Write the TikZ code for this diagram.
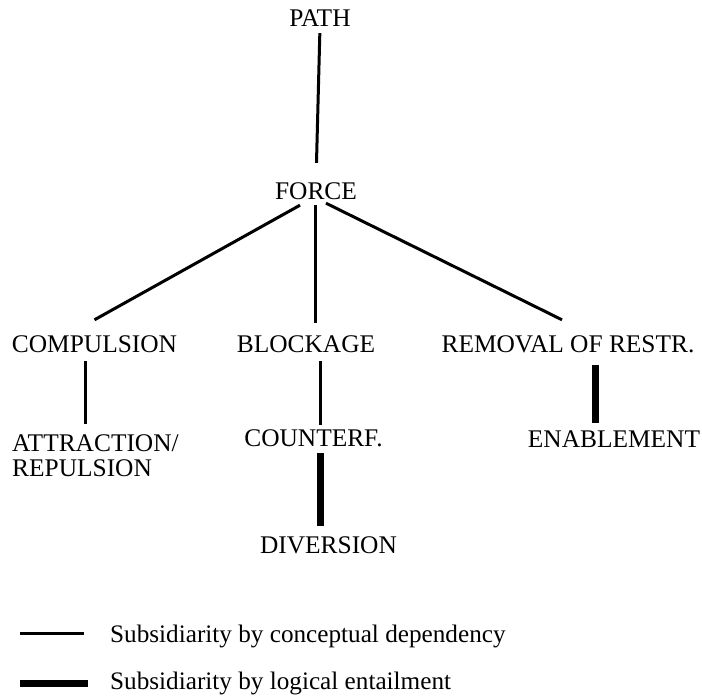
\documentclass[tikz,border=0pt]{standalone}
\usepackage{fontspec}
\setmainfont{Liberation Serif}
\usetikzlibrary{positioning, calc}

\begin{document}
\begin{tikzpicture}[x=1pt, y=-1pt,
            schema/.style={inner sep=0pt, anchor=base, text height=17pt, text depth=0pt, font=\fontsize{25.4}{25}\selectfont},
            schema-left/.style={inner sep=0pt, anchor=north west, align=left, font=\fontsize{25.4}{25}\selectfont},
            key-text/.style={inner sep=0pt, anchor=base west, font=\fontsize{25.2}{25}\selectfont},
            concept/.style={line width=3pt},
            entail/.style={line width=7pt}
        ]
        \useasboundingbox (0,0) rectangle (702,696);

        % Top of the hierarchy
        \node[schema] (path) at (320,26) {PATH};
        \node[schema] (force) at (316,199) {FORCE};

        % Force schemas
        \node[schema] (compulsion) at (94.5,352) {COMPULSION};
        \node[schema] (blockage) at (306,352) {BLOCKAGE};
        \node[schema] (removal) at (568,352) {REMOVAL OF RESTR.};

        % Subsidiary schemas
        \node[schema-left] (attraction) at (12,434) {ATTRACTION/\\REPULSION};
        \node[schema] (counterf) at (313.5,446) {COUNTERF.};
        \node[schema] (enablement) at (614,447) {ENABLEMENT};
        \node[schema] (diversion) at (328.5,553) {DIVERSION};

        % Columns of the vertical lines
        \coordinate (compx) at ([xshift=-9.5pt]compulsion.south);
        \coordinate (blockx) at ([xshift=14pt]blockage.south);
        \coordinate (removx) at ([xshift=27pt]removal.south);
        \coordinate (counterx) at ([xshift=6.5pt]counterf.south);

        % Lines
        \draw[concept, shorten <=7pt, shorten >=19pt] (path.south) -- (force.north);
        \draw[concept] ([xshift=-16pt,yshift=-6pt]force.south) -- ([yshift=15pt]compulsion.north);
        \draw[concept] ([xshift=-1pt,yshift=-6pt]force.south) -- ([xshift=9pt,yshift=12pt]blockage.north);
        \draw[concept] ([xshift=10pt,yshift=-4pt]force.south) -- ([xshift=-6pt,yshift=15pt]removal.north);
        \draw[concept, shorten <=9pt, shorten >=10pt] (compx) -- (attraction.north -| compx);
        \draw[concept, shorten <=9pt, shorten >=4pt] (blockx) -- (counterf.north -| blockx);
        \draw[entail, shorten <=13pt, shorten >=7pt] (removx) -- (enablement.north -| removx);
        \draw[entail, shorten <=7pt, shorten >=10pt] (counterx) -- (diversion.north -| counterx);

        % Legend
        \node[key-text] (key-concept) at (110,642) {Subsidiarity by conceptual dependency};
        \node[key-text] (key-entail) at (110,689) {Subsidiarity by logical entailment};
        \coordinate (key-concept-line) at (20,633);
        \coordinate (key-entail-line) at (20,683);
        \draw[concept] (key-concept-line) -- ++(64,0);
        \draw[entail] (key-entail-line) -- ++(68,0);

    \end{tikzpicture}
\end{document}
